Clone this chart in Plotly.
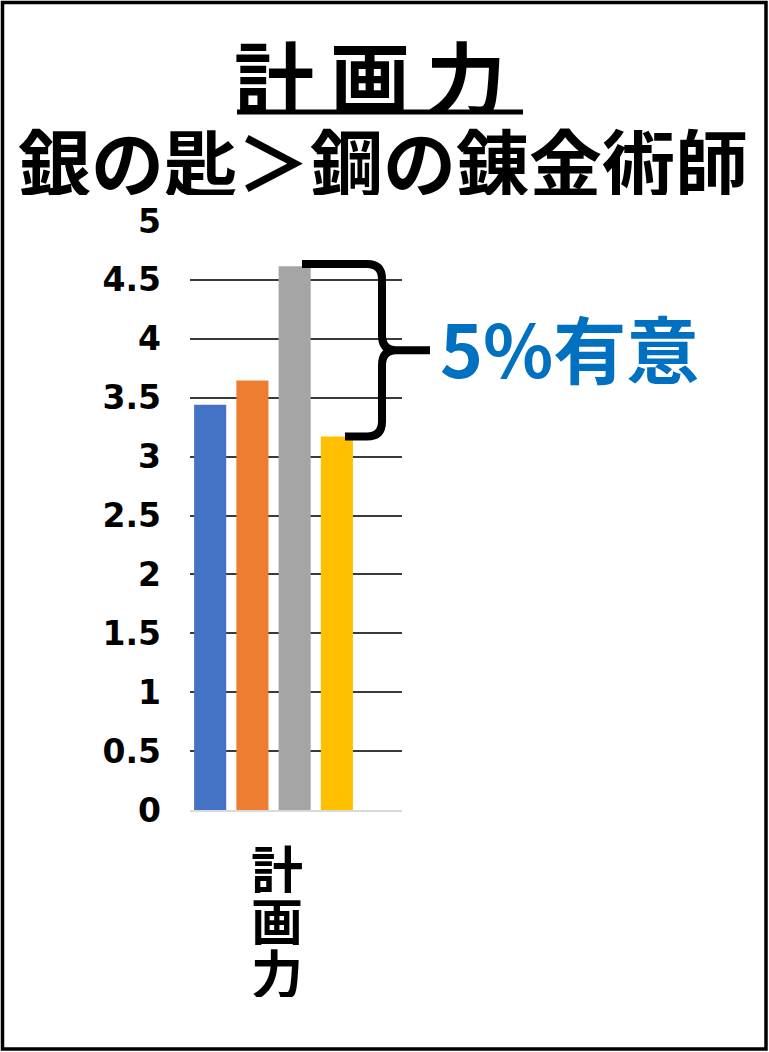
import plotly.graph_objects as go

# ---- data ----
categories = ["計画力"]
series_names = ["系列1", "系列2", "系列3", "系列4"]
series_values = [3.44, 3.645, 4.615, 3.17]
series_colors = ["#4472C4", "#ED7D31", "#A5A5A5", "#FFC000"]
y_tickvals = [0, 0.5, 1, 1.5, 2, 2.5, 3, 3.5, 4, 4.5, 5]
y_ticktext = ["0", "0.5", "1", "1.5", "2", "2.5", "3", "3.5", "4", "4.5", "5"]
title_text = "計画力"
subtitle_text = "銀の匙＞鋼の錬金術師"
sig_text = "5%有意"

W, H = 769, 1052
L, R, T, B = 190, 367, 221, 242
PW = W - L - R
PH = H - T - B
YMAX = 5.0

def px(xp):
    return (xp - L) / PW

def py(yp):
    return (H - B - yp) / PH

CJK = "Noto Sans CJK JP"

fig = go.Figure()
for name, val, col in zip(series_names, series_values, series_colors):
    fig.add_trace(go.Bar(x=categories, y=[val], name=name, marker=dict(color=col, line=dict(width=0))))

fig.update_layout(
    width=W, height=H,
    margin=dict(l=L, r=R, t=T, b=B, pad=0),
    paper_bgcolor="white", plot_bgcolor="white",
    barmode="group", bargap=0.203, bargroupgap=0.24,
    showlegend=False,
    xaxis=dict(range=[-0.394, 0.606], showticklabels=False, showgrid=False,
               showline=True, linecolor="#D9D9D9", linewidth=2, ticks="", zeroline=False),
    yaxis=dict(range=[0, YMAX], tickvals=y_tickvals, ticktext=y_ticktext,
               showgrid=True, gridcolor="#3a3a3a", gridwidth=1.6, zeroline=False,
               showline=False, ticks="", ticklabelstandoff=28,
               tickfont=dict(family="DejaVu Sans", size=33, color="black", weight="bold")),
)

annotations = []
# title
annotations.append(dict(text=f'<span style="letter-spacing:16px">{title_text}</span>',
                        xref="paper", yref="paper", x=px(378), y=py(74), height=76,
                        xanchor="center", yanchor="middle", showarrow=False,
                        font=dict(family=CJK, size=80, color="black", weight="bold")))
# subtitle
annotations.append(dict(text=subtitle_text, xref="paper", yref="paper", x=px(383), y=py(159), height=72,
                        xanchor="center", yanchor="middle", showarrow=False,
                        font=dict(family=CJK, size=73, color="black", weight="bold")))
# significance label
annotations.append(dict(text=sig_text, xref="paper", yref="paper", x=px(569), y=py(346),
                        xanchor="center", yanchor="middle", showarrow=False,
                        font=dict(family=CJK, size=73, color="#0070C0", weight="bold")))
# vertical category label
for i, ch in enumerate(categories[0]):
    annotations.append(dict(text=ch, xref="paper", yref="paper", x=px(277), y=py(867 + 52 * i),
                            height=52, xanchor="center", yanchor="middle", showarrow=False,
                            font=dict(family=CJK, size=52, color="black", weight="bold")))
fig.update_layout(annotations=annotations)

shapes = []
# title underline
shapes.append(dict(type="line", xref="paper", yref="paper", x0=px(237), x1=px(523),
                   y0=py(112), y1=py(112), line=dict(color="black", width=5)))
# outer border
shapes.append(dict(type="rect", xref="paper", yref="paper", x0=px(2.5), x1=px(766),
                   y0=py(1049), y1=py(2.5), line=dict(color="black", width=3.5)))
# bracket between grey and yellow bars (y from data values)
top = (series_values[2] + 0.02) / YMAX
bot = series_values[3] / YMAX
mid = (top + bot) / 2
xs, xc, xe, xt, xb = px(302), px(382), px(430), px(396), px(345)
r = 15 / PH
rx = px(382) - px(367)
path = (f"M {xs},{top} L {xc - rx},{top} Q {xc},{top} {xc},{top - r} "
        f"L {xc},{mid + r} Q {xc},{mid} {xt},{mid} L {xe},{mid} "
        f"M {xt},{mid} Q {xc},{mid} {xc},{mid - r} L {xc},{bot + r} "
        f"Q {xc},{bot} {xc - rx},{bot} L {xb},{bot}")
shapes.append(dict(type="path", xref="paper", yref="paper", path=path,
                   line=dict(color="black", width=8)))
fig.update_layout(shapes=shapes)

fig.write_html("out.html", config={"displayModeBar": False},
               post_script="document.body.style.margin='0';document.body.style.overflow='hidden';")
